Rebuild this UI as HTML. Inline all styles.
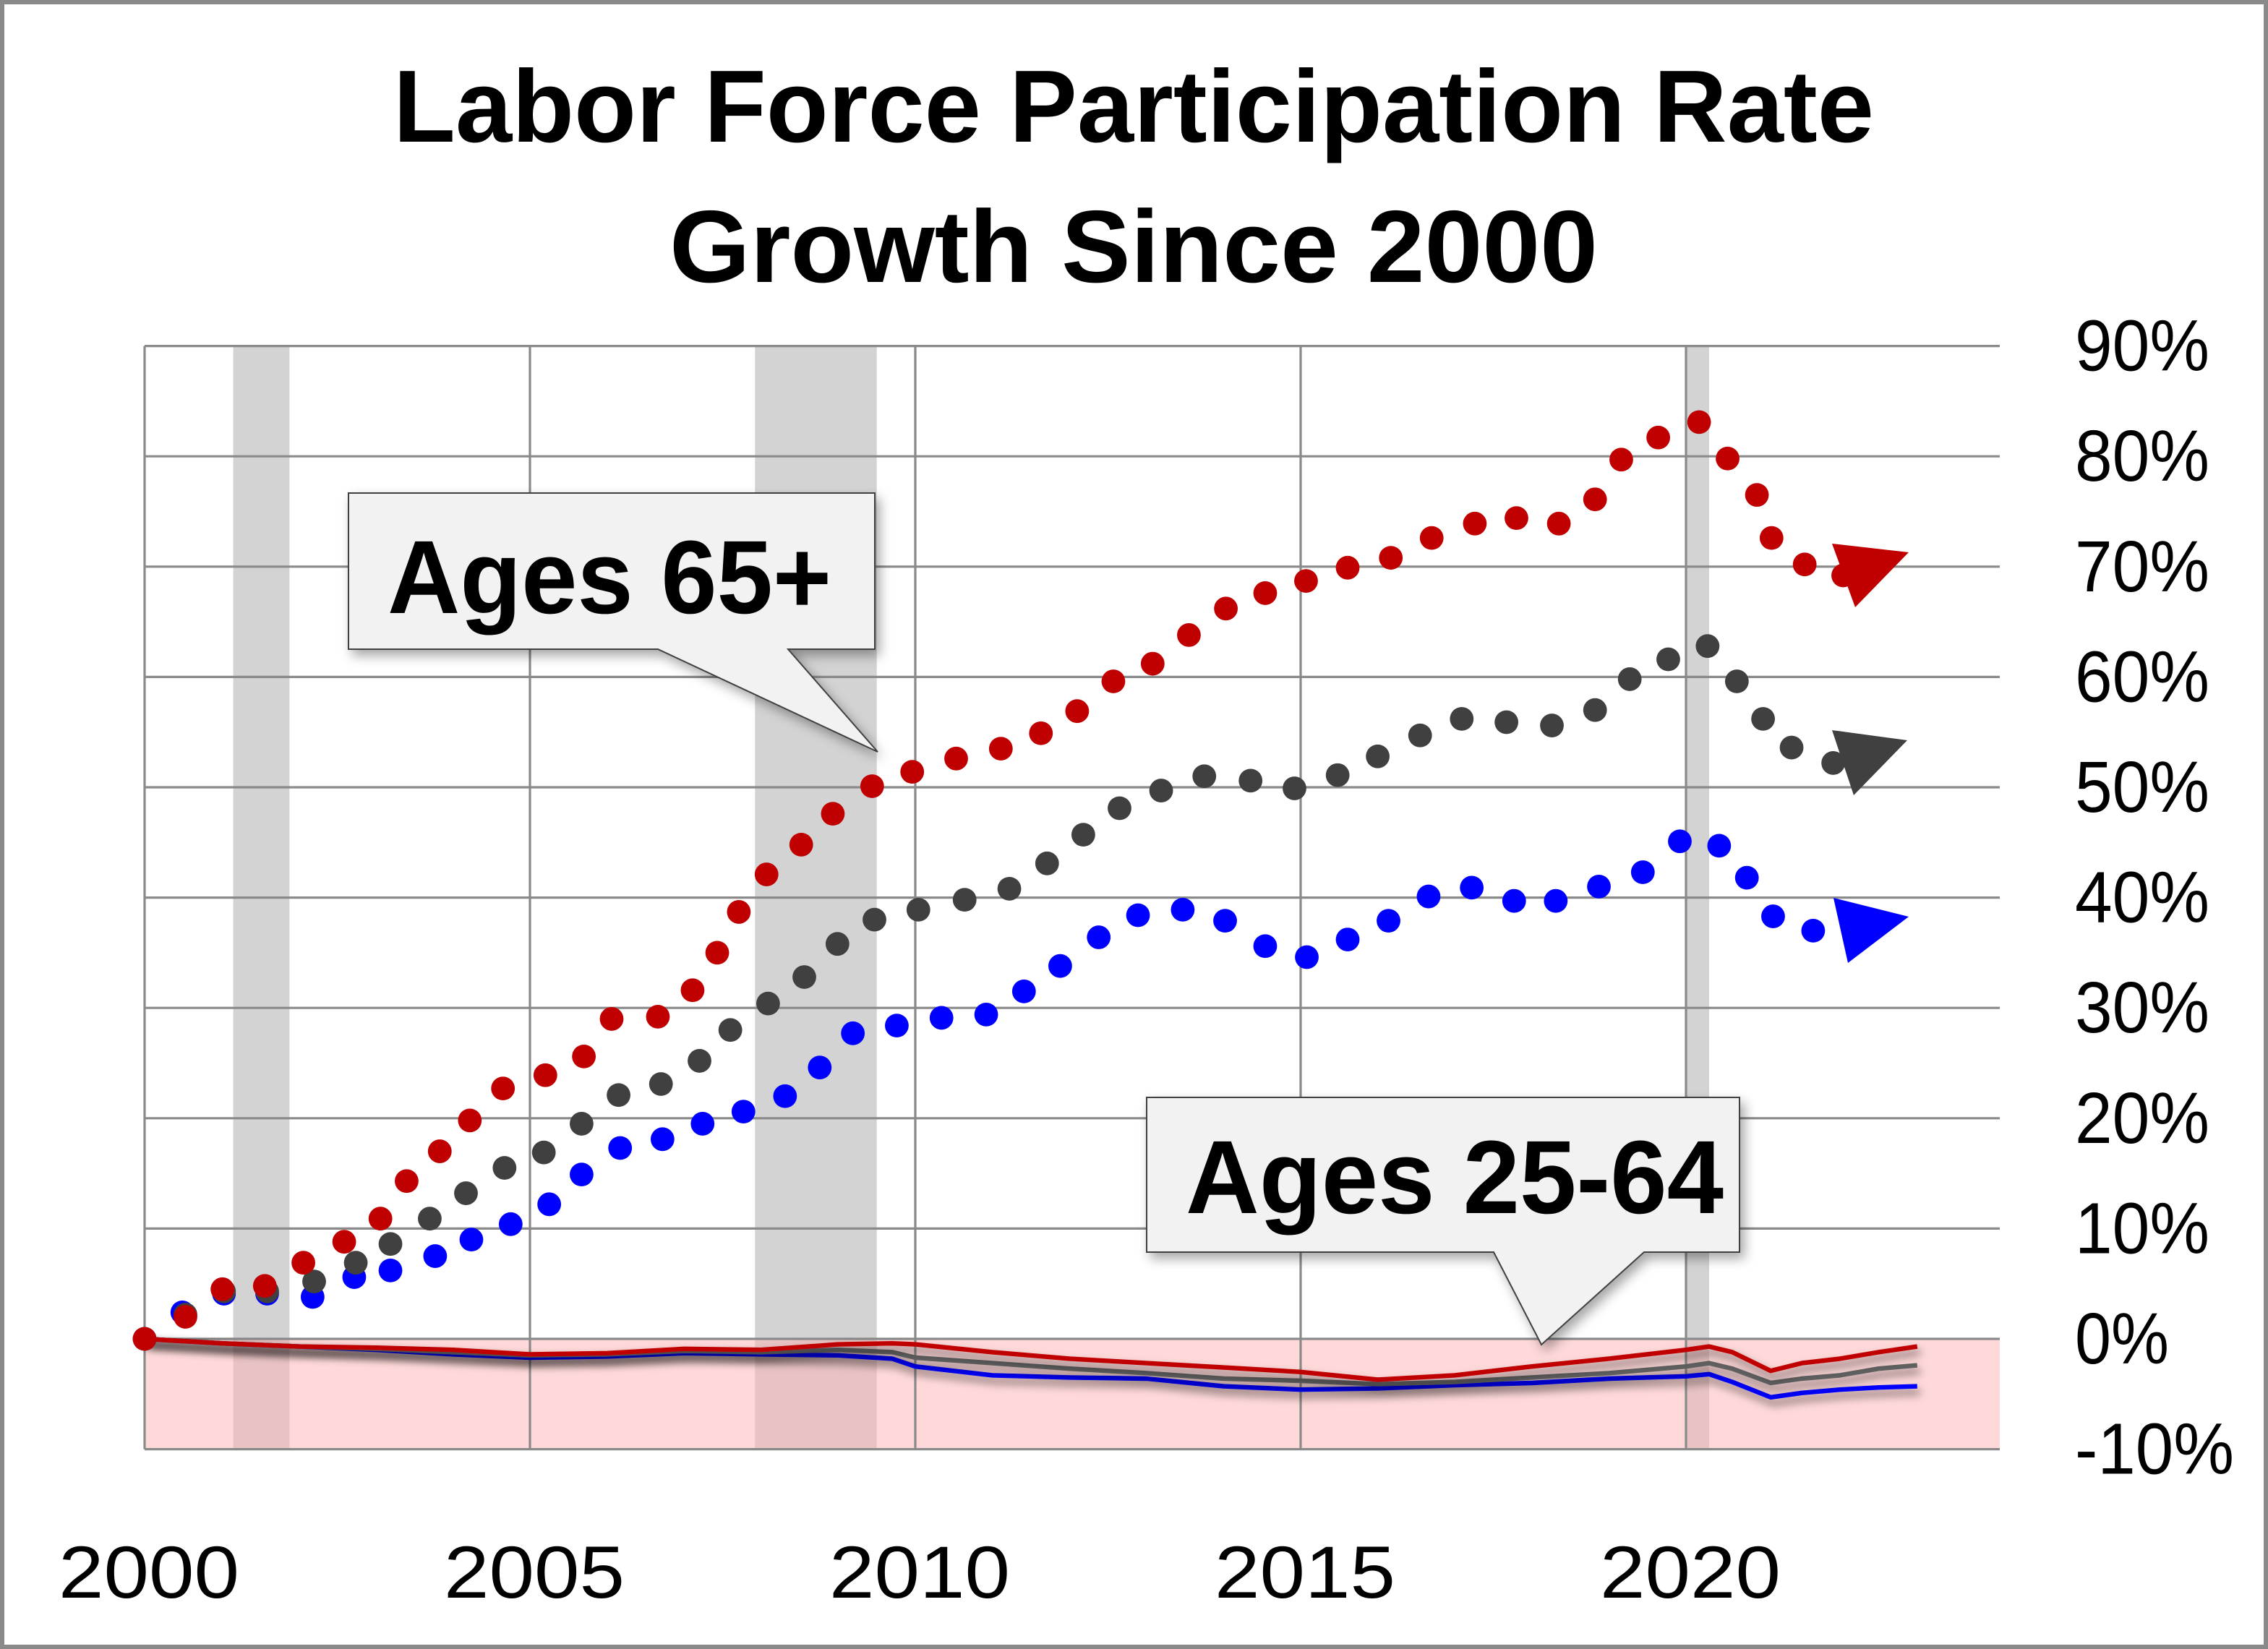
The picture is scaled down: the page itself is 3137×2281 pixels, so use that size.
<!DOCTYPE html>
<html><head><meta charset="utf-8"><style>
html,body{margin:0;padding:0;background:#fff;}
svg{display:block;}
text{font-family:"Liberation Sans",sans-serif;}
</style></head><body>
<svg id="chart" width="3137" height="2281" viewBox="0 0 1568.5 1140.5" xmlns="http://www.w3.org/2000/svg">
<defs>
<filter id="sh" x="-10%" y="-50%" width="120%" height="300%"><feDropShadow dx="2" dy="4" stdDeviation="3" flood-color="#000" flood-opacity="0.55"/></filter>
<filter id="bs" x="-10%" y="-10%" width="130%" height="130%"><feDropShadow dx="3" dy="4" stdDeviation="4" flood-color="#000" flood-opacity="0.35"/></filter>
</defs>
<rect x="1.5" y="1.5" width="1565.5" height="1137.5" fill="#fff" stroke="#8a8a8a" stroke-width="3"/>
<text x="272" y="98" font-size="71" font-weight="bold" textLength="1024" lengthAdjust="spacingAndGlyphs">Labor Force Participation Rate</text>
<text x="463" y="195" font-size="71" font-weight="bold" textLength="642" lengthAdjust="spacingAndGlyphs">Growth Since 2000</text>
<g id="bands"></g>
<g id="grid"></g>
<g id="ylabels"></g>
<g id="xlabels"></g>
<g id="lines"></g>
<g id="dots"></g>
<g id="annot">
<polygon points="1267,376 1320,382 1283,420" fill="#c00000"/>
<polygon points="1267,505 1319,512 1282,550" fill="#404040"/>
<polygon points="1268,621 1320,634 1278,666" fill="#0000ff"/>
<g filter="url(#bs)">
<path d="M241,341 H605 V449 H545 L607,520 L455,449 H241 Z" fill="#f2f2f2" stroke="#404040" stroke-width="1"/>
</g>
<text x="268" y="424" font-size="72" font-weight="bold" textLength="307" lengthAdjust="spacingAndGlyphs">Ages 65+</text>
<g filter="url(#bs)">
<path d="M793,759 H1203 V866 H1137 L1066,930 L1033,866 H793 Z" fill="#f2f2f2" stroke="#404040" stroke-width="1"/>
</g>
<text x="820" y="839" font-size="72" font-weight="bold" textLength="372" lengthAdjust="spacingAndGlyphs">Ages 25-64</text>
</g>
</svg>
<script>
const yTicks=[90,80,70,60,50,40,30,20,10,0,-10];
const yTickLabels=["90%","80%","70%","60%","50%","40%","30%","20%","10%","0%","-10%"];
const xTicks=[2000,2005,2010,2015,2020];
const xTickLabels=["2000","2005","2010","2015","2020"];
const recessionStarts=[2001.15,2007.92,2020.0];
const recessionEnds=[2001.88,2009.5,2020.3];

const redYears=[2000.00,2000.53,2001.01,2001.56,2002.06,2002.59,2003.06,2003.40,2003.83,2004.22,2004.65,2005.20,2005.70,2006.06,2006.66,2007.11,2007.43,2007.71,2008.07,2008.52,2008.93,2009.44,2009.96,2010.53,2011.11,2011.63,2012.10,2012.57,2013.08,2013.55,2014.03,2014.54,2015.07,2015.61,2016.17,2016.70,2017.26,2017.80,2018.35,2018.82,2019.16,2019.64,2020.17,2020.54,2020.92,2021.11,2021.54,2022.04];
const redValues=[0,2.0,4.5,4.8,6.9,8.8,10.9,14.3,17.0,19.8,22.7,23.9,25.6,29.0,29.2,31.6,35.0,38.7,42.1,44.8,47.6,50.1,51.4,52.6,53.5,54.9,56.9,59.6,61.2,63.8,66.2,67.6,68.7,69.9,70.8,72.6,73.9,74.4,73.9,76.1,79.7,81.7,83.1,79.8,76.5,72.6,70.2,69.2];
const grayYears=[2000.00,2000.53,2001.03,2001.59,2002.20,2002.74,2003.19,2003.70,2004.17,2004.67,2005.18,2005.67,2006.15,2006.70,2007.20,2007.60,2008.09,2008.56,2008.99,2009.47,2010.04,2010.64,2011.22,2011.71,2012.18,2012.65,2013.19,2013.75,2014.35,2014.92,2015.48,2016.00,2016.55,2017.09,2017.67,2018.26,2018.82,2019.27,2019.77,2020.28,2020.66,2021.00,2021.37,2021.91];
const grayValues=[0,2.2,4.3,4.3,5.2,6.9,8.6,10.9,13.2,15.5,16.9,19.5,22.1,23.1,25.2,28.0,30.4,32.8,35.8,38.0,38.9,39.8,40.8,43.1,45.7,48.1,49.7,51.0,50.6,49.9,51.1,52.8,54.7,56.2,55.9,55.6,57.0,59.8,61.6,62.8,59.6,56.2,53.6,52.2];
const blueYears=[2000.00,2000.49,2001.03,2001.59,2002.18,2002.72,2003.19,2003.77,2004.24,2004.75,2005.25,2005.67,2006.17,2006.72,2007.24,2007.77,2008.31,2008.76,2009.19,2009.76,2010.34,2010.92,2011.41,2011.88,2012.38,2012.89,2013.47,2014.02,2014.54,2015.08,2015.61,2016.14,2016.66,2017.22,2017.77,2018.31,2018.87,2019.44,2019.92,2020.43,2020.79,2021.13,2021.65];
const blueValues=[0,2.4,4.1,4.1,3.8,5.6,6.2,7.5,9.0,10.4,12.2,14.9,17.3,18.1,19.5,20.6,22.0,24.6,27.7,28.4,29.1,29.4,31.5,33.8,36.4,38.4,38.9,37.9,35.6,34.6,36.2,37.9,40.1,40.9,39.7,39.7,41.0,42.3,45.1,44.7,41.8,38.3,37.0];

const lineYears=[2000,2001,2002,2003,2004,2005,2006,2007,2008,2009,2009.7,2010,2011,2012,2013,2014,2015,2016,2017,2018,2019,2020,2020.3,2020.6,2021.1,2021.5,2022,2022.5,2023];
const redLine=[0,-0.4,-0.7,-0.8,-1.0,-1.4,-1.3,-0.9,-1.0,-0.5,-0.4,-0.5,-1.2,-1.8,-2.2,-2.6,-3.0,-3.7,-3.3,-2.5,-1.8,-1.0,-0.7,-1.2,-2.9,-2.2,-1.8,-1.2,-0.7];
const grayLine=[0,-0.4,-0.7,-0.9,-1.2,-1.5,-1.4,-1.1,-1.2,-1.0,-1.2,-1.7,-2.2,-2.7,-3.1,-3.6,-3.8,-4.1,-3.9,-3.5,-3.1,-2.5,-2.2,-2.7,-4.0,-3.6,-3.3,-2.7,-2.4];
const blueLine=[0,-0.4,-0.7,-1.0,-1.4,-1.7,-1.6,-1.3,-1.4,-1.5,-1.8,-2.5,-3.3,-3.5,-3.6,-4.3,-4.6,-4.5,-4.2,-4.0,-3.6,-3.4,-3.2,-3.9,-5.3,-4.9,-4.6,-4.4,-4.3];

const NS="http://www.w3.org/2000/svg";
const X0=100,X1=1383;
function xs(yr){return 100+(yr-2000)*53.3;}
function ys(v){return 926-v*7.63;}
function mk(tag,attrs,parent){const e=document.createElementNS(NS,tag);for(const k in attrs)e.setAttribute(k,attrs[k]);parent.appendChild(e);return e;}

const bands=document.getElementById('bands');
recessionStarts.forEach((s,i)=>{
  const r=mk('rect',{x:xs(s),y:ys(90),width:xs(recessionEnds[i])-xs(s),height:ys(-10)-ys(90),fill:'#d3d3d3'},bands);
  
  
});
const pink=mk('rect',{x:X0,y:ys(0),width:X1-X0,height:ys(-10)-ys(0),fill:'#ffb4b4','fill-opacity':'0.5'},bands);



const grid=document.getElementById('grid');
yTicks.forEach(v=>{
  const l=mk('line',{x1:X0,x2:X1,y1:ys(v),y2:ys(v),stroke:'#8a8a8a','stroke-width':1.6},grid);
  
  
});
xTicks.forEach(t=>{
  const l=mk('line',{x1:xs(t),x2:xs(t),y1:ys(90),y2:ys(-10),stroke:'#8a8a8a','stroke-width':1.6},grid);
  
  
});

const yl=document.getElementById('ylabels');
yTicks.forEach((v,i)=>{
  const lab=yTickLabels[i];
  const w=lab.length===2?65:(lab.length===3?93:110);
  const t=mk('text',{x:1435,y:ys(v)+17,'font-size':50,textLength:w,lengthAdjust:'spacingAndGlyphs'},yl);
  t.textContent=lab;
  
  
});
const xl=document.getElementById('xlabels');
xTicks.forEach((v,i)=>{
  const t=mk('text',{x:xs(v)+3,y:1105,'font-size':51,'text-anchor':'middle',textLength:125,lengthAdjust:'spacingAndGlyphs'},xl);
  t.textContent=xTickLabels[i];
  
  
});

const lines=document.getElementById('lines');
[[blueLine,'#0000ff','blue-25-64-line'],[grayLine,'#606060','gray-25-64-line'],[redLine,'#c00000','red-25-64-line']].forEach(([vals,c,n])=>{
  const d=vals.map((v,i)=>(i?'L':'M')+xs(lineYears[i]).toFixed(1)+','+ys(v).toFixed(1)).join(' ');
  const p=mk('path',{d:d,fill:'none',stroke:c,'stroke-width':3.2,'stroke-linejoin':'round',filter:'url(#sh)'},lines);
  
  
});

const dots=document.getElementById('dots');
[[blueYears,blueValues,'#0000ff','blue-65-plus-dot'],[grayYears,grayValues,'#404040','gray-65-plus-dot'],[redYears,redValues,'#c00000','red-65-plus-dot']].forEach(([yrs,vals,c,n])=>{
  vals.forEach((v,i)=>{
    const ci=mk('circle',{cx:xs(yrs[i]),cy:ys(v),r:8.2,fill:c},dots);
    
    
  });
});
</script>
</body></html>
